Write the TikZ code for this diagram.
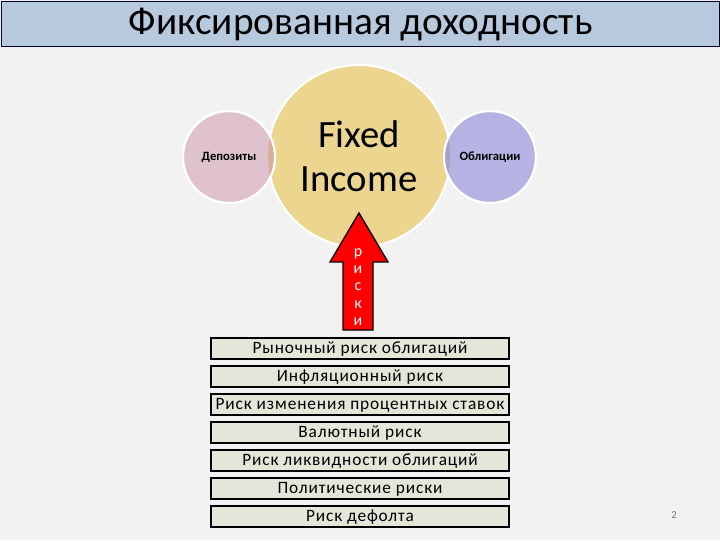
\documentclass[tikz,border=0pt]{standalone}
\usepackage{fontspec}
\setmainfont{Carlito}
\begin{document}
\begin{tikzpicture}[x=0.75pt,y=-0.75pt,
  riskbox/.style={draw=black,line width=1.5pt,fill=boxfill,minimum width=298*0.75pt,minimum height=21*0.75pt,inner sep=0pt,text height=9.3pt,text depth=1.5pt,font=\fontsize{13}{15}\selectfont\addfontfeatures{LetterSpace=5}},
  smallcirc/.style={circle,draw=white,line width=1.5pt,minimum size=92*0.75pt,inner sep=0pt}]
\definecolor{bg}{HTML}{F2F2F2}
\definecolor{titlefill}{HTML}{B7C9DD}
\definecolor{bigfill}{HTML}{EBD58F}
\definecolor{pinkfill}{HTML}{E0C2CE}
\definecolor{bluefill}{HTML}{B5B3E3}
\definecolor{boxfill}{HTML}{E4E6DA}
\definecolor{lensL}{HTML}{D9AE98}
\definecolor{lensR}{HTML}{A9A1BE}
\definecolor{arrowred}{HTML}{FF0000}
\useasboundingbox (0,0) rectangle (720,540);
\fill[bg] (0,0) rectangle (720,540);
\node[draw=black!80!blue,line width=1pt,fill=titlefill,minimum width=718*0.75pt,minimum height=45*0.75pt,inner sep=0pt,anchor=north west,font=\fontsize{29.5}{32}\selectfont] (title) at (1,1) {Фиксированная доходность};
% circles
\node[circle,fill=bigfill,draw=white,line width=1.5pt,minimum size=182*0.75pt,inner sep=0pt,align=center,font=\fontsize{29}{33}\selectfont] (fi) at (359,156) {Fixed\\Income};
\node[smallcirc,fill=pinkfill] (dep) at (229,157) {};
\node[smallcirc,fill=bluefill] (obl) at (490,157) {};
\begin{scope}
  \clip (359,156) circle[radius=91];
  \fill[lensL] (229,157) circle[radius=45];
  \fill[lensR] (490,157) circle[radius=45];
\end{scope}
\draw[white,line width=1.5pt] (229,157) circle[radius=46];
\draw[white,line width=1.5pt] (490,157) circle[radius=46];
\node[font=\bfseries\fontsize{9.5}{11}\selectfont] (deplabel) at (dep) {Депозиты};
\node[font=\bfseries\fontsize{9.5}{11}\selectfont] (obllabel) at (obl) {Облигации};
% arrow
\draw[fill=arrowred,draw=black,line width=1pt,line join=miter] (343,330) -- (343,262) -- (330,262) -- (359,213) -- (388,262) -- (373,262) -- (373,330) -- cycle;
\node[text=white,align=center,font=\fontsize{12}{12.9}\selectfont] (risk) at (358,287) {р\\и\\с\\к\\и};
% boxes
\node[riskbox] (b1) at (360,348.5) {Рыночный риск облигаций};
\node[riskbox] (b2) at (360,376.5) {Инфляционный риск};
\node[riskbox] (b3) at (360,404.5) {Риск изменения процентных ставок};
\node[riskbox] (b4) at (360,432.5) {Валютный риск};
\node[riskbox] (b5) at (360,460.5) {Риск ликвидности облигаций};
\node[riskbox] (b6) at (360,488.5) {Политические риски};
\node[riskbox] (b7) at (360,516.5) {Риск дефолта};
\node[text=black!55,font=\fontsize{8}{10}\selectfont] (pg) at (674,515) {2};
\end{tikzpicture}
\end{document}
